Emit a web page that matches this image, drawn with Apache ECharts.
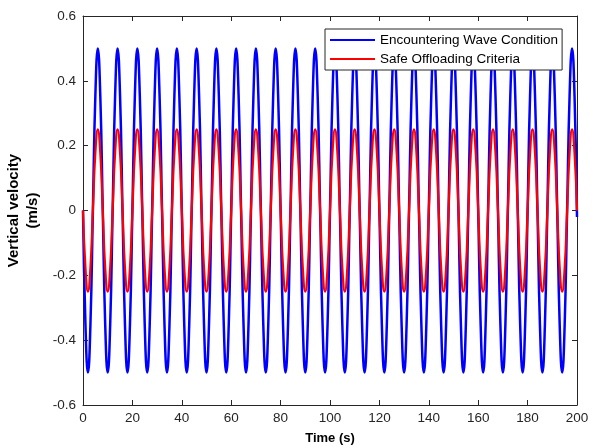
<!DOCTYPE html>
<html>
<head>
<meta charset="utf-8">
<script src="https://cdn.jsdelivr.net/npm/echarts@6/dist/echarts.min.js"></script>
<style>
  html, body { margin: 0; padding: 0; background: #fff; }
  #chart { width: 595px; height: 448px; }
</style>
</head>
<body>
<div id="chart"></div>
<script>
// time step between samples (s), samples start at t = 0
const TIME_STEP = 1
const seriesNames = ['Encountering Wave Condition', 'Safe Offloading Criteria']
const xTicks = [0, 20, 40, 60, 80, 100, 120, 140, 160, 180, 200]
const yTicks = [-0.6, -0.4, -0.2, 0, 0.2, 0.4, 0.6]

// vertical velocity, one row per 8 s wave cycle
const waveVelocity = [
  0, -0.354, -0.5, -0.354, 0, 0.354, 0.5, 0.354,
  0, -0.354, -0.5, -0.354, 0, 0.354, 0.5, 0.354,
  0, -0.354, -0.5, -0.354, 0, 0.354, 0.5, 0.354,
  0, -0.354, -0.5, -0.354, 0, 0.354, 0.5, 0.354,
  0, -0.354, -0.5, -0.354, 0, 0.354, 0.5, 0.354,
  0, -0.354, -0.5, -0.354, 0, 0.354, 0.5, 0.354,
  0, -0.354, -0.5, -0.354, 0, 0.354, 0.5, 0.354,
  0, -0.354, -0.5, -0.354, 0, 0.354, 0.5, 0.354,
  0, -0.354, -0.5, -0.354, 0, 0.354, 0.5, 0.354,
  0, -0.354, -0.5, -0.354, 0, 0.354, 0.5, 0.354,
  0, -0.354, -0.5, -0.354, 0, 0.354, 0.5, 0.354,
  0, -0.354, -0.5, -0.354, 0, 0.354, 0.5, 0.354,
  0, -0.354, -0.5, -0.354, 0, 0.354, 0.5, 0.354,
  0, -0.354, -0.5, -0.354, 0, 0.354, 0.5, 0.354,
  0, -0.354, -0.5, -0.354, 0, 0.354, 0.5, 0.354,
  0, -0.354, -0.5, -0.354, 0, 0.354, 0.5, 0.354,
  0, -0.354, -0.5, -0.354, 0, 0.354, 0.5, 0.354,
  0, -0.354, -0.5, -0.354, 0, 0.354, 0.5, 0.354,
  0, -0.354, -0.5, -0.354, 0, 0.354, 0.5, 0.354,
  0, -0.354, -0.5, -0.354, 0, 0.354, 0.5, 0.354,
  0, -0.354, -0.5, -0.354, 0, 0.354, 0.5, 0.354,
  0, -0.354, -0.5, -0.354, 0, 0.354, 0.5, 0.354,
  0, -0.354, -0.5, -0.354, 0, 0.354, 0.5, 0.354,
  0, -0.354, -0.5, -0.354, 0, 0.354, 0.5, 0.354,
  0, -0.354, -0.5, -0.354, 0, 0.354, 0.5, 0.354,
  -0.02
]

const safeVelocity = [
  0, -0.177, -0.25, -0.177, 0, 0.177, 0.25, 0.177,
  0, -0.177, -0.25, -0.177, 0, 0.177, 0.25, 0.177,
  0, -0.177, -0.25, -0.177, 0, 0.177, 0.25, 0.177,
  0, -0.177, -0.25, -0.177, 0, 0.177, 0.25, 0.177,
  0, -0.177, -0.25, -0.177, 0, 0.177, 0.25, 0.177,
  0, -0.177, -0.25, -0.177, 0, 0.177, 0.25, 0.177,
  0, -0.177, -0.25, -0.177, 0, 0.177, 0.25, 0.177,
  0, -0.177, -0.25, -0.177, 0, 0.177, 0.25, 0.177,
  0, -0.177, -0.25, -0.177, 0, 0.177, 0.25, 0.177,
  0, -0.177, -0.25, -0.177, 0, 0.177, 0.25, 0.177,
  0, -0.177, -0.25, -0.177, 0, 0.177, 0.25, 0.177,
  0, -0.177, -0.25, -0.177, 0, 0.177, 0.25, 0.177,
  0, -0.177, -0.25, -0.177, 0, 0.177, 0.25, 0.177,
  0, -0.177, -0.25, -0.177, 0, 0.177, 0.25, 0.177,
  0, -0.177, -0.25, -0.177, 0, 0.177, 0.25, 0.177,
  0, -0.177, -0.25, -0.177, 0, 0.177, 0.25, 0.177,
  0, -0.177, -0.25, -0.177, 0, 0.177, 0.25, 0.177,
  0, -0.177, -0.25, -0.177, 0, 0.177, 0.25, 0.177,
  0, -0.177, -0.25, -0.177, 0, 0.177, 0.25, 0.177,
  0, -0.177, -0.25, -0.177, 0, 0.177, 0.25, 0.177,
  0, -0.177, -0.25, -0.177, 0, 0.177, 0.25, 0.177,
  0, -0.177, -0.25, -0.177, 0, 0.177, 0.25, 0.177,
  0, -0.177, -0.25, -0.177, 0, 0.177, 0.25, 0.177,
  0, -0.177, -0.25, -0.177, 0, 0.177, 0.25, 0.177,
  0, -0.177, -0.25, -0.177, 0, 0.177, 0.25, 0.177,
  0
]

const FONT = 'Liberation Sans, Arial, Helvetica, sans-serif'
const AXIS_COLOR = '#262626'

function toPairs (values) {
  return values.map((v, i) => [i * TIME_STEP, v])
}

function yLabel (v) {
  if (Math.abs(v) < 1e-9) return '0'
  return v.toFixed(1)
}

let myChart = echarts.init(document.getElementById('chart'), null, { renderer: 'canvas' })

// shared axis look, matlab style box with ticks pointing inward
const boxAxis = {
  axisLine: { show: true, onZero: false, lineStyle: { color: AXIS_COLOR, width: 1 } },
  axisTick: { show: true, inside: true, length: 5, lineStyle: { color: AXIS_COLOR } },
  splitLine: { show: false }
}

myChart.setOption({
  animation: false,
  backgroundColor: '#fff',
  grid: {
    left: 83,
    right: 18,
    top: 16,
    bottom: 43,
    containLabel: false,
    outerBoundsMode: 'none'
  },
  legend: {
    orient: 'vertical',
    left: 325,
    top: 29,
    data: seriesNames,
    icon: 'rect',
    itemWidth: 45,
    itemHeight: 2,
    itemGap: 5,
    padding: [4, 4, 4, 5],
    backgroundColor: '#fff',
    borderColor: AXIS_COLOR,
    borderWidth: 1,
    textStyle: {
      fontFamily: FONT,
      fontSize: 13.5,
      lineHeight: 14,
      color: '#000'
    }
  },
  xAxis: [
    Object.assign({}, boxAxis, {
      type: 'value',
      min: 0,
      max: 200,
      interval: 20,
      position: 'bottom',
      name: 'Time (s)',
      nameLocation: 'middle',
      nameGap: 27,
      nameTextStyle: { fontFamily: FONT, fontSize: 13, fontWeight: 'bold', color: '#000' },
      axisLabel: {
        fontFamily: FONT,
        fontSize: 13.5,
        color: AXIS_COLOR,
        margin: 6,
        customValues: xTicks
      }
    }),
    Object.assign({}, boxAxis, {
      type: 'value',
      min: 0,
      max: 200,
      interval: 20,
      position: 'top',
      axisLabel: { show: false }
    })
  ],
  yAxis: [
    Object.assign({}, boxAxis, {
      type: 'value',
      min: -0.6,
      max: 0.6,
      interval: 0.2,
      position: 'left',
      name: 'Vertical velocity\n(m/s)',
      nameLocation: 'middle',
      nameRotate: 90,
      nameGap: 31,
      nameTextStyle: {
        fontFamily: FONT,
        fontSize: 15,
        fontWeight: 'bold',
        color: '#000',
        lineHeight: 18.5
      },
      axisLabel: {
        fontFamily: FONT,
        fontSize: 13.5,
        color: AXIS_COLOR,
        margin: 7,
        formatter: yLabel
      }
    }),
    Object.assign({}, boxAxis, {
      type: 'value',
      min: -0.6,
      max: 0.6,
      interval: 0.2,
      position: 'right',
      axisLabel: { show: false }
    })
  ],
  series: [
    {
      name: seriesNames[0],
      type: 'line',
      xAxisIndex: 0,
      yAxisIndex: 0,
      data: toPairs(waveVelocity),
      smooth: 0.5,
      symbol: 'none',
      color: '#0000ff',
      lineStyle: { color: '#0000ff', width: 2.5 },
      z: 2
    },
    {
      name: seriesNames[1],
      type: 'line',
      xAxisIndex: 0,
      yAxisIndex: 0,
      data: toPairs(safeVelocity),
      smooth: 0.5,
      symbol: 'none',
      color: '#ff0000',
      lineStyle: { color: '#ff0000', width: 2.2 },
      z: 3
    }
  ]
})
</script>
</body>
</html>
